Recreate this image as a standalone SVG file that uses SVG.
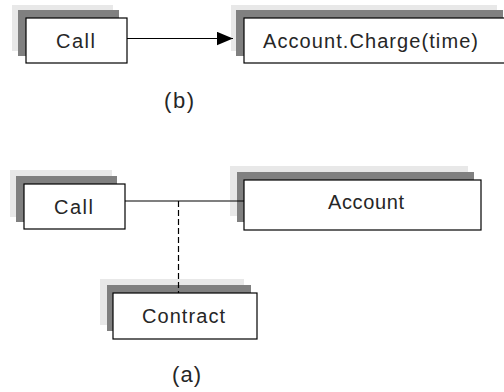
<svg xmlns="http://www.w3.org/2000/svg" width="504" height="392" viewBox="0 0 504 392">
  <style>
    .halo { fill: #e8e8e8; }
    .shade { fill: #808080; }
    .box { fill: #ffffff; stroke: #000000; stroke-width: 1.2; }
    .label { font-family: "Liberation Sans", Arial, sans-serif; font-size: 20px; fill: #262626; }
    .caption { font-family: "Liberation Sans", Arial, sans-serif; font-size: 22px; fill: #262626; }
    .link { stroke: #000000; stroke-width: 1.2; fill: none; }
    .dash { stroke-dasharray: 6 3; }
  </style>
  <defs>
    <marker id="arrowhead" markerUnits="userSpaceOnUse" markerWidth="17" markerHeight="14" refX="16" refY="6.7" orient="auto">
      <path d="M0,0 L16,6.7 L0,13.4 Z" fill="#000000"/>
    </marker>
  </defs>
  <rect width="504" height="392" fill="#ffffff"/>

  <!-- (b): Call sends Account.Charge(time) -->
  <g id="call-b">
    <rect class="halo" x="12" y="5" width="101" height="46"/>
    <rect class="shade" x="18" y="10" width="101" height="46"/>
    <rect class="box" x="26" y="18" width="101" height="45"/>
    <text class="label" x="56" y="48" textLength="39" lengthAdjust="spacing">Call</text>
  </g>
  <g id="charge-b">
    <rect class="halo" x="231" y="5" width="266" height="46"/>
    <rect class="shade" x="236" y="10" width="267" height="46"/>
    <rect class="box" x="244" y="18" width="267" height="45"/>
    <text class="label" x="263" y="48" textLength="215" lengthAdjust="spacing">Account.Charge(time)</text>
  </g>
  <text class="caption" x="164" y="108" textLength="30" lengthAdjust="spacing">(b)</text>

  <!-- (a): Call associated with Account, with Contract as the association class -->
  <g id="call-a">
    <rect class="halo" x="10" y="170" width="102" height="47"/>
    <rect class="shade" x="16" y="176" width="101" height="46"/>
    <rect class="box" x="24" y="184" width="101" height="45"/>
    <text class="label" x="54" y="214" textLength="39" lengthAdjust="spacing">Call</text>
  </g>
  <g id="account-a">
    <rect class="halo" x="230" y="166" width="238" height="50"/>
    <rect class="shade" x="237" y="172" width="237" height="50"/>
    <rect class="box" x="244" y="180" width="237" height="50"/>
    <text class="label" x="328" y="209" textLength="76" lengthAdjust="spacing">Account</text>
  </g>
  <g id="contract-a">
    <rect class="halo" x="100" y="279" width="144" height="46"/>
    <rect class="shade" x="107" y="285" width="144" height="46"/>
    <rect class="box" x="113" y="293" width="144" height="46"/>
    <text class="label" x="142" y="323" textLength="83" lengthAdjust="spacing">Contract</text>
  </g>
  <text class="caption" x="172" y="382" textLength="29" lengthAdjust="spacing">(a)</text>

  <g id="connectors">
    <line class="link" x1="127" y1="38.5" x2="233" y2="38.5" marker-end="url(#arrowhead)"/>
    <line class="link" x1="125" y1="201" x2="244" y2="201"/>
    <line class="link dash" x1="178.5" y1="201" x2="178.5" y2="293"/>
  </g>
</svg>
